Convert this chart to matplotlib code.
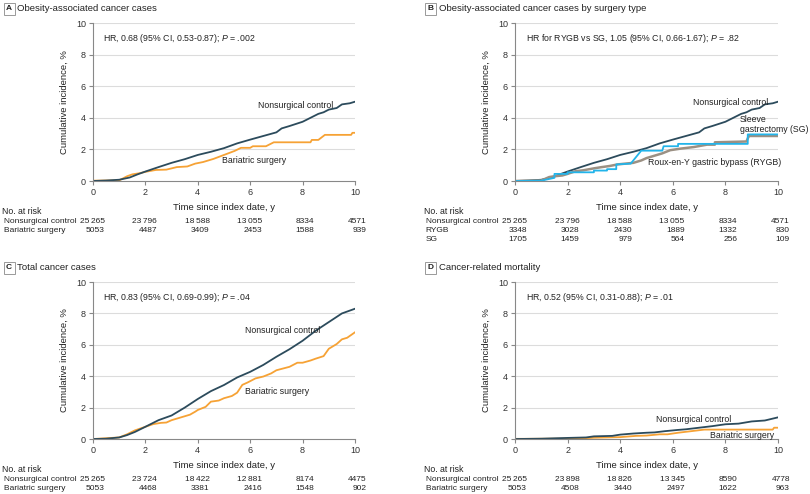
import matplotlib
matplotlib.use("Agg")
import matplotlib.pyplot as plt

plt.rcParams['font.family'] = ['Liberation Sans', 'DejaVu Sans']
plt.rcParams['font.size'] = 6.3
plt.rcParams['mathtext.fontset'] = 'custom'
plt.rcParams['mathtext.rm'] = 'Liberation Sans'
plt.rcParams['mathtext.it'] = 'Liberation Sans:italic'

NAVY = '#2c4b5c'
ORANGE = '#f6a235'
RYGB_C = '#9b9083'
SG_C = '#22b4ea'
GRAY = '#888888'
TXT = '#222222'
FS = 6.3

years = [0, 2, 4, 6, 8, 10]

# panel A / B nonsurgical curve
ctrl_ab_t = [0, 0.5, 1.0, 1.2, 1.4, 1.7, 2.0, 2.5, 3.0, 3.5, 4.0, 4.5, 5.0, 5.5, 6.0, 6.5,
             7.0, 7.2, 7.5, 8.0, 8.3, 8.6, 8.8, 9.0, 9.3, 9.5, 9.8, 10.0]
ctrl_ab_v = [0, 0.03, 0.08, 0.15, 0.22, 0.42, 0.6, 0.88, 1.15, 1.38, 1.65, 1.85, 2.08, 2.38, 2.62, 2.85,
             3.08, 3.33, 3.48, 3.75, 4.0, 4.25, 4.35, 4.52, 4.62, 4.85, 4.92, 5.02]
bari_a_t = [0, 1.0, 1.3, 1.5, 1.8, 2.0, 2.4, 2.8, 3.2, 3.6, 3.7, 3.9, 4.2, 4.6, 5.0, 5.4, 5.65,
            6.0, 6.1, 6.6, 6.9, 8.3, 8.35, 8.6, 8.85, 9.85, 9.9, 10.0]
bari_a_v = [0.02, 0.04, 0.3, 0.42, 0.5, 0.58, 0.7, 0.72, 0.88, 0.92, 0.98, 1.1, 1.2, 1.4, 1.65, 1.9, 2.1,
            2.1, 2.2, 2.2, 2.45, 2.45, 2.6, 2.6, 2.92, 2.92, 3.05, 3.05]

# panel B surgery types
rygb_t = [0, 1.0, 1.3, 1.5, 1.8, 2.0, 2.3, 2.6, 3.0, 3.3, 3.6, 3.9, 4.2, 4.5, 4.8, 5.0, 5.3, 5.6,
          5.9, 6.3, 6.8, 7.3, 7.6, 7.6, 8.8, 8.85, 8.9, 10.0]
rygb_v = [0, 0.03, 0.25, 0.3, 0.35, 0.45, 0.62, 0.68, 0.8, 0.88, 0.95, 1.05, 1.1, 1.15, 1.3, 1.45, 1.6, 1.75,
          1.95, 2.05, 2.15, 2.3, 2.3, 2.45, 2.5, 2.7, 2.85, 2.85]
sg_t = [0, 1.0, 1.5, 1.5, 2.0, 2.0, 3.0, 3.0, 3.5, 3.5, 3.85, 3.85, 4.4, 4.8, 5.6, 5.65, 6.2, 6.2,
        8.85, 8.85, 10.0]
sg_v = [0, 0.02, 0.2, 0.45, 0.45, 0.55, 0.55, 0.66, 0.66, 0.75, 0.75, 1.05, 1.1, 1.92, 1.92, 2.2, 2.2, 2.35,
        2.35, 2.95, 2.95]

# panel C total cancer
ctrl_c_t = [0, 0.5, 1.0, 1.3, 1.6, 2.0, 2.5, 3.0, 3.5, 4.0, 4.5, 5.0, 5.5, 6.0, 6.5, 7.0, 7.5,
            8.0, 8.5, 9.0, 9.5, 10.0]
ctrl_c_v = [0, 0.02, 0.1, 0.25, 0.45, 0.78, 1.2, 1.5, 2.0, 2.55, 3.05, 3.44, 3.92, 4.28, 4.72, 5.24, 5.72,
            6.26, 6.9, 7.45, 8.0, 8.3]
bari_c_t = [0, 1.0, 1.3, 1.6, 2.0, 2.3, 2.6, 2.8, 3.0, 3.5, 3.7, 3.9, 4.0, 4.3, 4.5, 4.8, 5.0, 5.3,
            5.5, 5.7, 5.9, 6.2, 6.5, 6.8, 7.0, 7.5, 7.8, 8.0, 8.3, 8.5, 8.8, 9.0, 9.3, 9.5, 9.7, 10.0]
bari_c_v = [0, 0.1, 0.3, 0.55, 0.78, 0.95, 1.03, 1.05, 1.2, 1.45, 1.55, 1.74, 1.85, 2.05, 2.38, 2.45, 2.6,
            2.74, 2.95, 3.45, 3.6, 3.86, 3.98, 4.18, 4.38, 4.6, 4.86, 4.86, 5.0, 5.12, 5.28, 5.75, 6.05,
            6.35, 6.45, 6.8]

# panel D mortality
ctrl_d_t = [0, 1.0, 2.0, 2.7, 3.0, 3.7, 4.0, 4.5, 5.0, 5.3, 5.7, 6.2, 6.5, 7.0, 7.5, 8.0, 8.5,
            9.0, 9.5, 10.0]
ctrl_d_v = [0, 0.02, 0.07, 0.1, 0.17, 0.2, 0.28, 0.35, 0.4, 0.42, 0.5, 0.58, 0.62, 0.72, 0.82, 0.94, 0.98,
            1.12, 1.18, 1.38]
bari_d_t = [0, 2.5, 3.0, 4.0, 4.6, 5.0, 5.5, 5.8, 6.2, 6.7, 7.2, 9.8, 9.85, 10.0]
bari_d_v = [0.01, 0.03, 0.08, 0.12, 0.2, 0.22, 0.3, 0.3, 0.4, 0.5, 0.6, 0.6, 0.72, 0.72]

# at-risk tables
risk_ctrl_a = [25265, 23796, 18588, 13055, 8334, 4571]
risk_bari_a = [5053, 4487, 3409, 2453, 1588, 939]
risk_rygb = [3348, 3028, 2430, 1889, 1332, 830]
risk_sg = [1705, 1459, 979, 564, 256, 109]
risk_ctrl_c = [25265, 23724, 18422, 12881, 8174, 4475]
risk_bari_c = [5053, 4468, 3381, 2416, 1548, 902]
risk_ctrl_d = [25265, 23898, 18826, 13345, 8590, 4778]
risk_bari_d = [5053, 4508, 3440, 2497, 1622, 963]


def fmt(n):
    s = str(n)
    if len(s) >= 5:
        s = s[:-3] + '\u2009' + s[-3:]
    return s


def setup(ax, letter, title, hr):
    ax.set_xlim(0, 10)
    ax.set_ylim(0, 10)
    ax.set_xticks(years)
    ax.set_yticks(years)
    for y in [2, 4, 6, 8, 10]:
        ax.axhline(y, color='#dcdcdc', lw=0.8, zorder=0)
    for s in ['top', 'right']:
        ax.spines[s].set_visible(False)
    for s in ['left', 'bottom']:
        ax.spines[s].set_color(GRAY)
        ax.spines[s].set_linewidth(0.8)
    ax.tick_params(colors=GRAY, labelcolor='#333333', length=3, width=0.8, labelsize=6.5, pad=2)
    ax.set_xlabel('Time since index date, y', fontsize=6.8, color=TXT, labelpad=4)
    ax.set_ylabel('Cumulative incidence, %', fontsize=6.8, color=TXT, labelpad=5)
    ax.text(-0.32, 1.09, letter, transform=ax.transAxes, fontsize=6, fontweight='bold',
            ha='center', va='center', color=TXT,
            bbox=dict(boxstyle='square,pad=0.3', fc='white', ec='#999999', lw=0.7))
    ax.text(-0.29, 1.09, title, transform=ax.transAxes, fontsize=6.8, ha='left', va='center', color=TXT)
    ax.text(0.04, 0.9, hr, transform=ax.transAxes, fontsize=FS, ha='left', va='center', color=TXT)


def risk(ax, rows):
    tr = ax.get_xaxis_transform()
    ax.text(-3.47, -0.195, 'No. at risk', transform=tr, fontsize=FS, ha='left', va='center', color=TXT)
    ys = [-0.255, -0.313, -0.371]
    for (label, vals), y in zip(rows, ys):
        ax.text(-3.4, y, label, transform=tr, fontsize=6, ha='left', va='center', color=TXT)
        for x, n in zip(years, vals):
            ax.text(x + 0.45, y, fmt(n), transform=tr, fontsize=6, ha='right', va='center', color=TXT)


fig = plt.figure(figsize=(8.1, 4.94), dpi=100)
axA = fig.add_axes([0.1148, 0.6336, 0.3235, 0.3198])
axB = fig.add_axes([0.6358, 0.6336, 0.3247, 0.3198])
axC = fig.add_axes([0.1148, 0.1113, 0.3235, 0.3178])
axD = fig.add_axes([0.6358, 0.1113, 0.3247, 0.3178])

# A
setup(axA, 'A', 'Obesity-associated cancer cases', r'HR, 0.68 (95% CI, 0.53-0.87); $\it{P}$ = .002')
axA.plot(bari_a_t, bari_a_v, color=ORANGE, lw=1.3)
axA.plot(ctrl_ab_t, ctrl_ab_v, color=NAVY, lw=1.3)
axA.text(6.3, 4.75, 'Nonsurgical control', fontsize=FS, va='center', color=TXT)
axA.text(4.93, 1.27, 'Bariatric surgery', fontsize=FS, va='center', color=TXT)
risk(axA, [('Nonsurgical control', risk_ctrl_a), ('Bariatric surgery', risk_bari_a)])

# B
setup(axB, 'B', 'Obesity-associated cancer cases by surgery type',
      r'HR for RYGB vs SG, 1.05 (95% CI, 0.66-1.67); $\it{P}$ = .82')
axB.plot(ctrl_ab_t, ctrl_ab_v, color=NAVY, lw=1.3)
axB.plot(rygb_t, rygb_v, color=RYGB_C, lw=1.8)
axB.plot(sg_t, sg_v, color=SG_C, lw=1.3)
axB.text(6.77, 4.94, 'Nonsurgical control', fontsize=FS, va='center', color=TXT)
axB.text(8.55, 3.55, 'Sleeve\ngastrectomy (SG)', fontsize=FS, va='center', ha='left',
         color=TXT, linespacing=1.15)
axB.text(5.06, 1.14, 'Roux-en-Y gastric bypass (RYGB)', fontsize=FS, va='center', color=TXT)
risk(axB, [('Nonsurgical control', risk_ctrl_a), ('RYGB', risk_rygb), ('SG', risk_sg)])

# C
setup(axC, 'C', 'Total cancer cases', r'HR, 0.83 (95% CI, 0.69-0.99); $\it{P}$ = .04')
axC.plot(bari_c_t, bari_c_v, color=ORANGE, lw=1.3)
axC.plot(ctrl_c_t, ctrl_c_v, color=NAVY, lw=1.3)
axC.text(5.8, 6.94, 'Nonsurgical control', fontsize=FS, va='center', color=TXT)
axC.text(5.8, 3.0, 'Bariatric surgery', fontsize=FS, va='center', color=TXT)
risk(axC, [('Nonsurgical control', risk_ctrl_c), ('Bariatric surgery', risk_bari_c)])

# D
setup(axD, 'D', 'Cancer-related mortality', r'HR, 0.52 (95% CI, 0.31-0.88); $\it{P}$ = .01')
axD.plot(bari_d_t, bari_d_v, color=ORANGE, lw=1.3)
axD.plot(ctrl_d_t, ctrl_d_v, color=NAVY, lw=1.3)
axD.text(5.36, 1.27, 'Nonsurgical control', fontsize=FS, va='center', color=TXT)
axD.text(7.4, 0.25, 'Bariatric surgery', fontsize=FS, va='center', color=TXT)
risk(axD, [('Nonsurgical control', risk_ctrl_d), ('Bariatric surgery', risk_bari_d)])

fig.savefig('out.png', dpi=100, facecolor='white')
